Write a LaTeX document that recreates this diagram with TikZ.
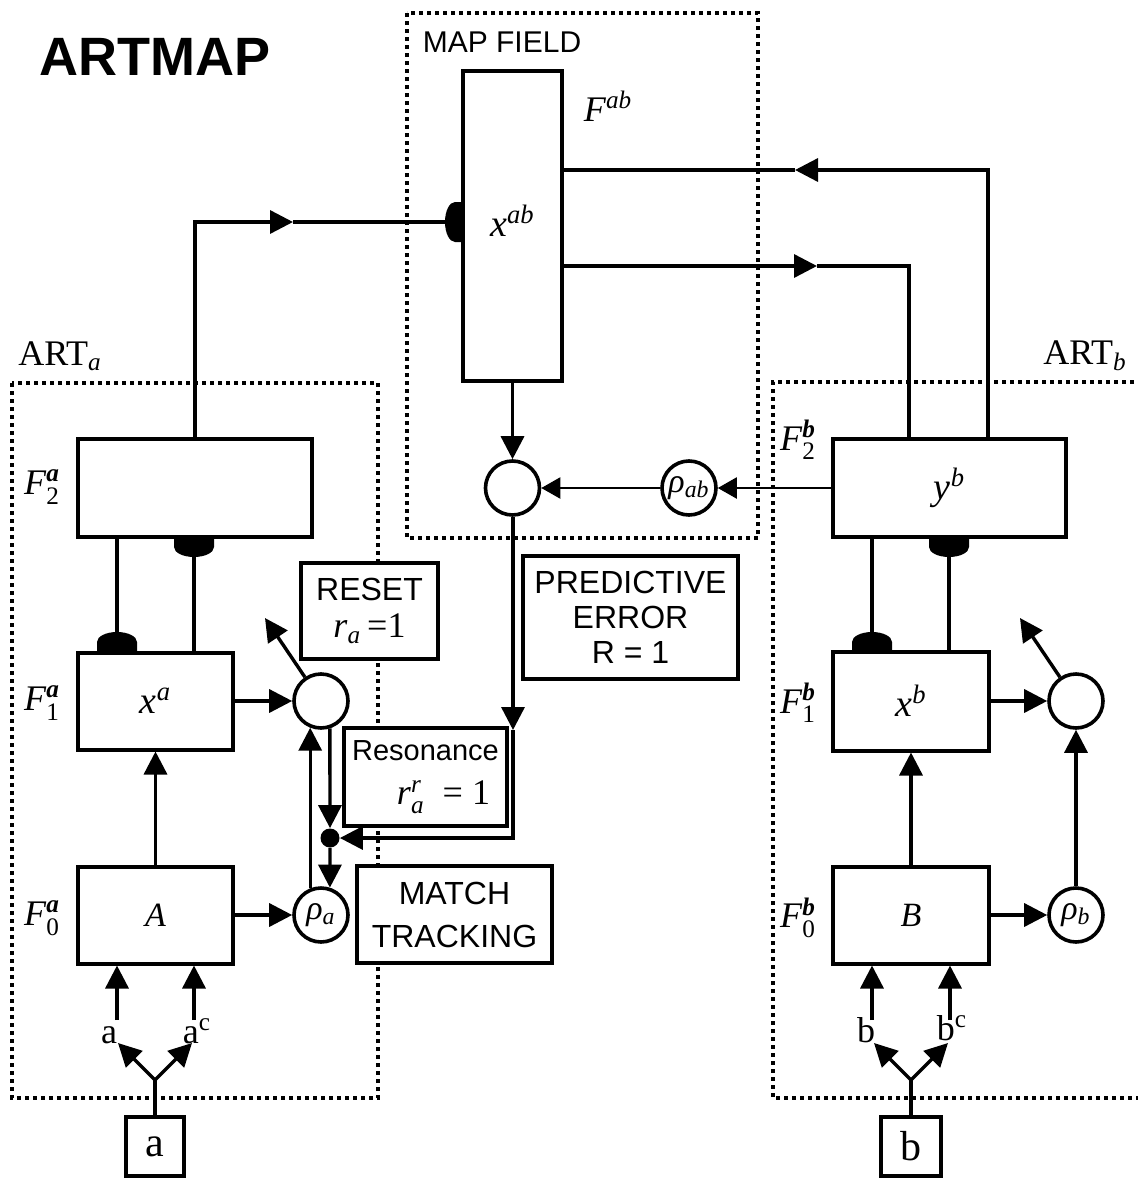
\documentclass[tikz,border=0pt]{standalone}
\usepackage{amsmath}
\usepackage{fontspec}
\setmainfont{Liberation Serif}
\setsansfont{Liberation Sans}
\usepackage{tikz}
\usetikzlibrary{arrows.meta}
\usetikzlibrary{positioning}
\tikzstyle{wire}=[line width=1.7pt]
\tikzstyle{thin wire}=[line width=1.1pt]
\tikzstyle{arr}=[-{Triangle[length=11.5pt,width=11.5pt]}]
\tikzstyle{small arr}=[-{Triangle[length=9.5pt,width=10.5pt]}]
\tikzstyle{artframe}=[line width=2pt,dash pattern=on 2pt off 2pt]
\tikzstyle{fieldbox}=[draw,line width=2pt,fill=white,inner sep=0pt,font=\fontsize{19}{20}\selectfont]
\tikzstyle{notebox}=[draw,line width=2pt,fill=white,inner sep=0pt,align=center,font=\sffamily\fontsize{16}{17.5}\selectfont]
\tikzstyle{cell}=[draw,circle,line width=1.8pt,fill=white,minimum size=27pt,inner sep=0pt,font=\fontsize{17}{17}\selectfont]
\tikzstyle{junction}=[fill=black,circle,minimum size=9.5pt,inner sep=0pt]
\tikzstyle{flabel}=[inner sep=0pt,font=\fontsize{18}{20}\selectfont]
\tikzstyle{inlabel}=[inner sep=0pt,font=\fontsize{18}{18}\selectfont]
% inhibitory (half round) contacts, in picture units
\newcommand{\inhup}[2]{\fill (#1-20,#2) -- (#1-20,#2-10) arc[start angle=180,end angle=360,x radius=20,y radius=10] -- (#1+20,#2) -- cycle;}
\newcommand{\inhdown}[2]{\fill (#1-20,#2) -- (#1-20,#2+10) arc[start angle=180,end angle=0,x radius=20,y radius=10] -- (#1+20,#2) -- cycle;}
\newcommand{\inhleft}[2]{\fill (#1,#2-20) -- (#1-8,#2-20) arc[start angle=270,end angle=90,x radius=10,y radius=20] -- (#1,#2+20) -- cycle;}

\begin{document}
\begin{tikzpicture}[x=0.5pt,y=-0.5pt]
	\useasboundingbox (0,0) rectangle (1137,1178);
	% frames
	\draw[artframe] (407,13) rectangle (758,538);
	\draw[artframe] (12,383) rectangle (378,1098);
	\draw[artframe] (1150,382) -| (773,1098) -- (1150,1098);

	\node[inner sep=0pt,font=\sffamily\bfseries\fontsize{27}{28}\selectfont] (title) at (155,57) {ARTMAP};
	\node[inner sep=0pt,font=\sffamily\fontsize{15}{16}\selectfont] (mapLabel) at (502,42) {MAP FIELD};
	\node[inner sep=0pt,font=\fontsize{18}{20}\selectfont] (artA) at (60,356) {ART\textsubscript{\textit{a}}};
	\node[inner sep=0pt,font=\fontsize{18}{20}\selectfont] (artB) at (1085,356) {ART\textsubscript{\textit{b}}};

	% map field
	\node[fieldbox,minimum width=49.5pt,minimum height=155pt] (xab) at (512.5,226) {\raisebox{5pt}{\textit{x}$^{\textit{ab}}$}};
	\node[flabel] (Fab) at (608,106) {\textit{F}$^{\textit{ab}}$};
	\node[cell] (cmpAB) at (512.5,488) {};
	\node[cell] (rhoAB) at (689,488) {\textit{ρ}\textsubscript{\textit{ab}}};

	% ART a
	\node[fieldbox,minimum width=117pt,minimum height=49pt] (F2a) at (195,488) {};
	\node[fieldbox,minimum width=77.5pt,minimum height=48.5pt] (F1a) at (155.5,701) {\textit{x}$^{\textit{a}}$};
	\node[fieldbox,minimum width=77.5pt,minimum height=48.5pt,font=\fontsize{17}{18}\selectfont] (F0a) at (155.5,915) {\textit{A}};
	\node[flabel] (lF2a) at (42,487) {\textit{F}$^{\textbf{\textit{a}}}_{\textrm{2}}$};
	\node[flabel] (lF1a) at (42,703) {\textit{F}$^{\textbf{\textit{a}}}_{\textrm{1}}$};
	\node[flabel] (lF0a) at (42,918) {\textit{F}$^{\textbf{\textit{a}}}_{\textrm{0}}$};
	\node[cell] (cmpA) at (321,701) {};
	\node[cell] (rhoA) at (321,915) {\textit{ρ}\textsubscript{\textit{a}}};
	\node[junction] (dotA) at (330,838) {};
	\node[fieldbox,minimum width=29pt,minimum height=29.5pt,font=\fontsize{21}{21}\selectfont] (boxa) at (155,1146.5) {a};
	\node[inlabel] (la) at (109,1035) {a};
	\node[inlabel] (lac) at (197,1031) {a\textsuperscript{c}};

	% ART b
	\node[fieldbox,minimum width=116.5pt,minimum height=49pt] (F2b) at (949.5,488) {\textit{y}$^{\textit{b}}$};
	\node[fieldbox,minimum width=78pt,minimum height=49.5pt] (F1b) at (911,701) {\textit{x}$^{\textit{b}}$};
	\node[fieldbox,minimum width=78pt,minimum height=48.5pt,font=\fontsize{17}{18}\selectfont] (F0b) at (911,915) {\textit{B}};
	\node[flabel] (lF2b) at (798,440) {\textit{F}$^{\textbf{\textit{b}}}_{\textrm{2}}$};
	\node[flabel] (lF1b) at (798,703) {\textit{F}$^{\textbf{\textit{b}}}_{\textrm{1}}$};
	\node[flabel] (lF0b) at (798,918) {\textit{F}$^{\textbf{\textit{b}}}_{\textrm{0}}$};
	\node[cell] (cmpB) at (1076,701) {};
	\node[cell] (rhoB) at (1076,915) {\textit{ρ}\textsubscript{\textit{b}}};
	\node[fieldbox,minimum width=30pt,minimum height=29.5pt,font=\fontsize{21}{21}\selectfont] (boxb) at (911,1146.5) {b};
	\node[inlabel] (lb) at (866,1030) {b};
	\node[inlabel] (lbc) at (952,1028) {b\textsuperscript{c}};

	% notes
	\node[notebox,minimum width=68.5pt,minimum height=48pt] (reset) at (369.5,611) {RESET\\[1pt]{\rmfamily\fontsize{18}{18}\selectfont\textit{r}\textsubscript{\textit{a}}\,=1}};
	\node[notebox,minimum width=81.5pt,minimum height=49pt,font=\sffamily\fontsize{14.5}{16}\selectfont] (reson) at (425.5,777) {Resonance\\[6pt]{\rmfamily\fontsize{18}{18}\selectfont\quad\textit{r}$^{\textit{r}}_{\textit{a}}$\ \ = 1}};
	\node[notebox,minimum width=107.5pt,minimum height=61.5pt] (predErr) at (630.5,617.5) {PREDICTIVE\\ERROR\\R = 1};
	\node[notebox,minimum width=97.5pt,minimum height=48.5pt] (matchTr) at (454.5,914.5) {MATCH\\[4pt]TRACKING};

	\coordinate (mC) at (293,222);
	\coordinate (ybA) at (988,170);
	\coordinate (mA) at (795,170);
	\coordinate (ybB) at (909,266);
	\coordinate (mB) at (817,266);
	\coordinate (pe1) at (513,730);
	\coordinate (pe2) at (513,838);
	\coordinate (rstA) at (265,618);
	\coordinate (rstB) at (1020,618);
	\coordinate (xa1) at (117,0);
	\coordinate (xa2) at (194,0);
	\coordinate (xb1) at (872,0);
	\coordinate (xb2) at (949,0);
	\coordinate (ia1) at (117,1020);
	\coordinate (ia2) at (194,1020);
	\coordinate (ib1) at (872,1020);
	\coordinate (ib2) at (950,1020);
	\coordinate (jA) at (155,1080);
	\coordinate (jB) at (911,1080);
	\coordinate (ta1) at (118,1043);
	\coordinate (ta2) at (192,1043);
	\coordinate (tb1) at (874,1043);
	\coordinate (tb2) at (948,1043);

	% map field connections
	\draw[wire,arr] (F2a.north) |- (mC);
	\draw[wire] (mC) -- (xab.west |- mC);
	\inhleft{463}{222}
	\draw[wire,arr] (ybA |- F2b.north) -- (ybA) -- (mA);
	\draw[wire] (mA) -- (xab.east |- mA);
	\draw[wire,arr] (xab.east |- mB) -- (mB);
	\draw[wire] (mB) -| (ybB |- F2b.north);
	\draw[wire,arr] (xab.south) -- (cmpAB.north);
	\draw[thin wire,small arr] (F2b.west) -- (rhoAB.east);
	\draw[thin wire,small arr] (rhoAB.west) -- (cmpAB.east);
	\draw[wire,arr] (cmpAB.south -| pe1) -- (pe1);
	\draw[wire,arr] (pe1) -- (pe2) -- (dotA.east);

	% ART a connections
	\draw[wire] (F2a.south -| xa1) -- (F1a.north -| xa1);
	\draw[wire] (F2a.south -| xa2) -- (F1a.north -| xa2);
	\inhup{117}{652}
	\inhdown{194}{537}
	\draw[wire,arr] (F1a.east) -- (cmpA.west);
	\draw[wire,arr] (F0a.east) -- (rhoA.west);
	\draw[wire,arr] (F0a.north) -- (F1a.south);
	\draw[wire,arr] (cmpA.124) -- (rstA);
	\draw[wire,arr] (cmpA.288) -- (dotA.north);
	\draw[wire,arr] (dotA.south) -- (rhoA.72);
	\draw[wire,arr] (rhoA.112) -- (cmpA.248);
	\draw[wire,arr] (ia1) -- (ia1 |- F0a.south);
	\draw[wire,arr] (ia2) -- (ia2 |- F0a.south);
	\draw[wire] (boxa.north) -- (jA);
	\draw[wire,arr] (jA) -- (ta1);
	\draw[wire,arr] (jA) -- (ta2);

	% ART b connections
	\draw[wire] (F2b.south -| xb1) -- (F1b.north -| xb1);
	\draw[wire] (F2b.south -| xb2) -- (F1b.north -| xb2);
	\inhup{872}{652}
	\inhdown{949}{537}
	\draw[wire,arr] (F1b.east) -- (cmpB.west);
	\draw[wire,arr] (F0b.east) -- (rhoB.west);
	\draw[wire,arr] (F0b.north) -- (F1b.south);
	\draw[wire,arr] (cmpB.124) -- (rstB);
	\draw[wire,arr] (rhoB.north) -- (cmpB.south);
	\draw[wire,arr] (ib1) -- (ib1 |- F0b.south);
	\draw[wire,arr] (ib2) -- (ib2 |- F0b.south);
	\draw[wire] (boxb.north) -- (jB);
	\draw[wire,arr] (jB) -- (tb1);
	\draw[wire,arr] (jB) -- (tb2);
\end{tikzpicture}
\end{document}
